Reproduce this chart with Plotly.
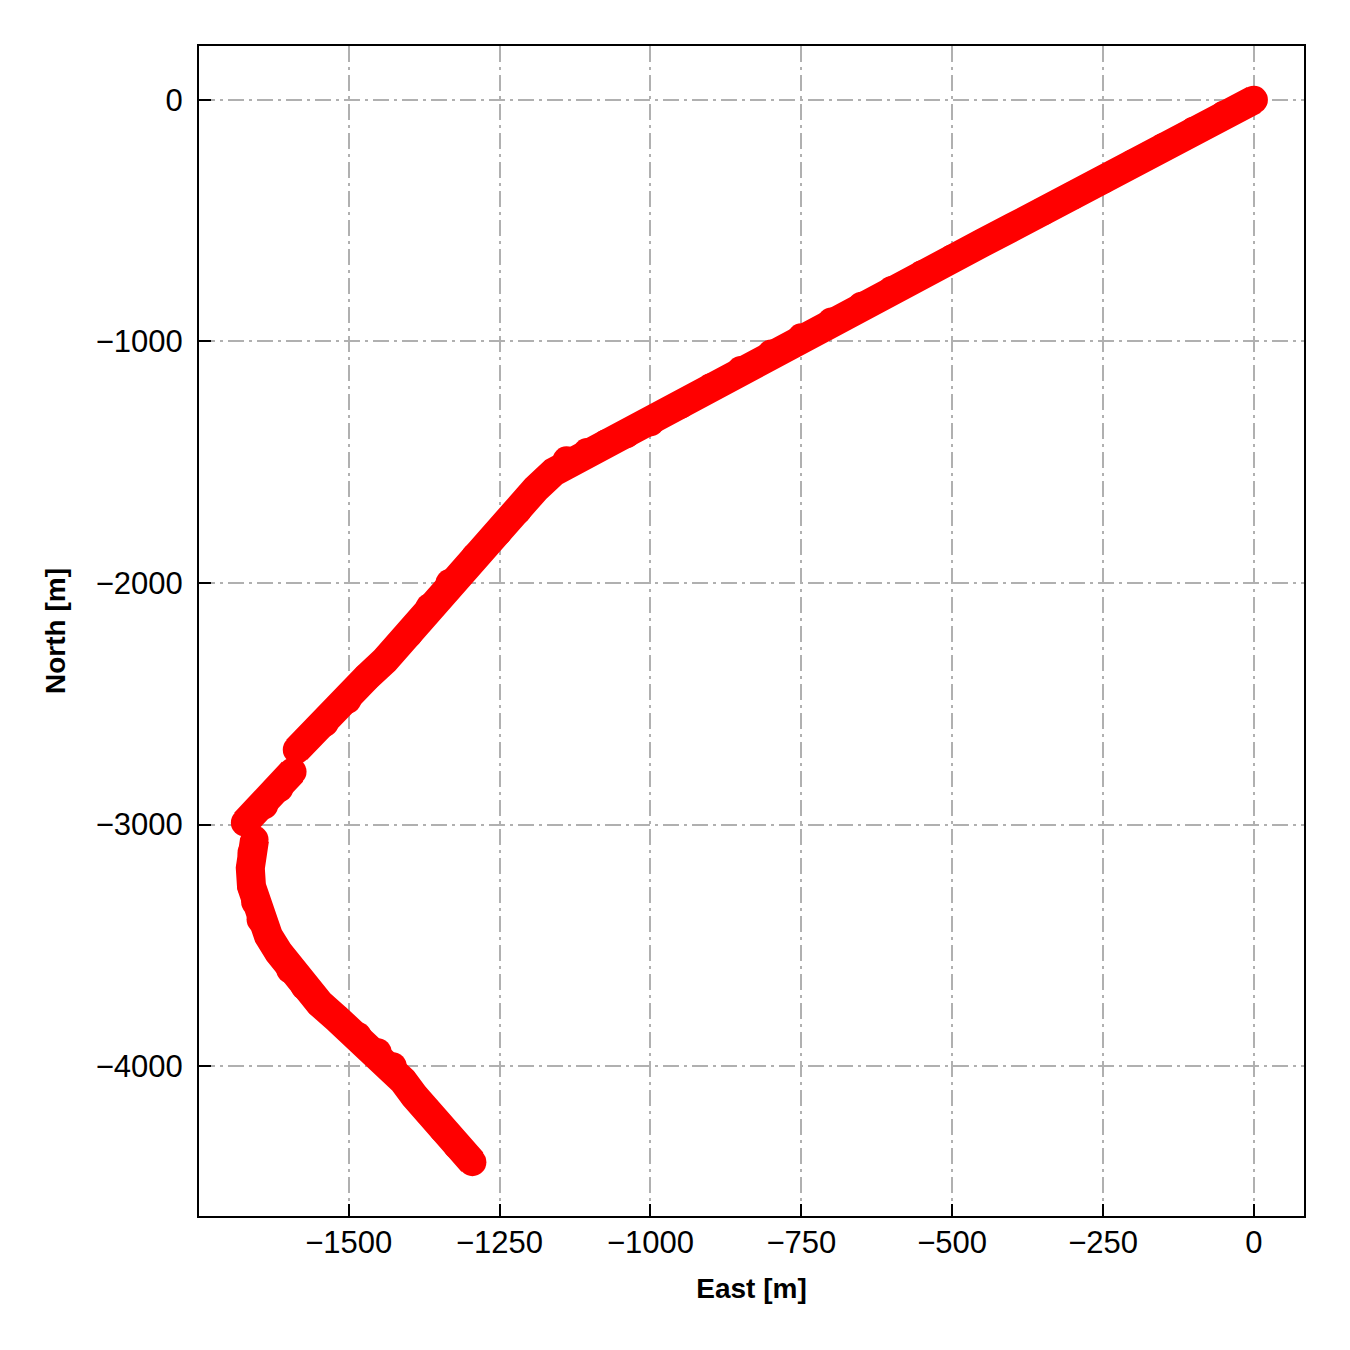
import plotly.graph_objects as go

# Well path (East, North) in metres.
# None separates the small jumps visible between survey segments.
east = [0, -50, -100, -150, -200, -250, -300, -350, -400, -450, -500, -550, -600,
        -650, -700, -750, -800, -850, -900, -950, -1000, -1040, -1073, -1105, -1139,
        -1160, -1190, -1220, -1252, -1290, -1333, -1366, -1400, -1440, -1470, -1502,
        -1540, -1586, None,
        -1593, -1615, -1640, -1672, None,
        -1656, -1661, -1663, -1661, -1655, -1646, -1633, -1616, -1597, -1573, -1548,
        -1518, -1485, -1452, -1427, -1410, -1391, -1368, -1344, -1320, -1295]
north = [0, -62, -128, -195, -262, -331, -396, -462, -527, -592, -657, -722, -787,
         -852, -917, -983, -1050, -1118, -1190, -1262, -1335, -1385, -1421, -1458, -1492,
         -1540, -1610, -1700, -1789, -1890, -2000, -2100, -2210, -2320, -2390, -2483,
         -2580, -2690, None,
         -2781, -2850, -2920, -2992, None,
         -3062, -3116, -3180, -3256, -3320, -3393, -3460, -3529, -3600, -3669, -3740,
         -3806, -3875, -3942, -4000, -4060, -4124, -4190, -4260, -4330, -4397]

x_ticks = [-1500, -1250, -1000, -750, -500, -250, 0]
x_tick_text = ["\u22121500", "\u22121250", "\u22121000", "\u2212750", "\u2212500", "\u2212250", "0"]
y_ticks = [0, -1000, -2000, -3000, -4000]
y_tick_text = ["0", "\u22121000", "\u22122000", "\u22123000", "\u22124000"]

FONT = "Liberation Sans, Arial, sans-serif"

fig = go.Figure()
fig.add_trace(go.Scatter(
    x=east, y=north, mode="lines+markers", connectgaps=False,
    line=dict(color="#ff0000", width=29),
    marker=dict(color="#ff0000", size=28, line=dict(width=0)),
    showlegend=False,
))

axis_common = dict(
    showgrid=True, gridcolor="#b0b0b0", gridwidth=2, griddash="16px,5px,3px,5px",
    showline=True, linecolor="black", linewidth=2, mirror=True,
    ticks="inside", ticklen=12, tickwidth=2, tickcolor="black",
    zeroline=False,
    tickfont=dict(family=FONT, size=31, color="black"),
)

fig.update_xaxes(
    range=[-1748, 83], tickvals=x_ticks, ticktext=x_tick_text,
    title=dict(text="East [m]", font=dict(family=FONT, size=28, color="black", weight="bold"), standoff=19),
    ticklabelstandoff=-2,
    **axis_common,
)
fig.update_yaxes(
    range=[-4620, 223], tickvals=y_ticks, ticktext=y_tick_text,
    title=dict(text="North [m]", font=dict(family=FONT, size=28, color="black", weight="bold"), standoff=22),
    ticklabelstandoff=8,
    **axis_common,
)

fig.update_layout(
    width=1350, height=1350,
    margin=dict(l=191, r=54, t=38, b=142),
    plot_bgcolor="white", paper_bgcolor="white",
    showlegend=False,
)

fig.write_html("out.html")
